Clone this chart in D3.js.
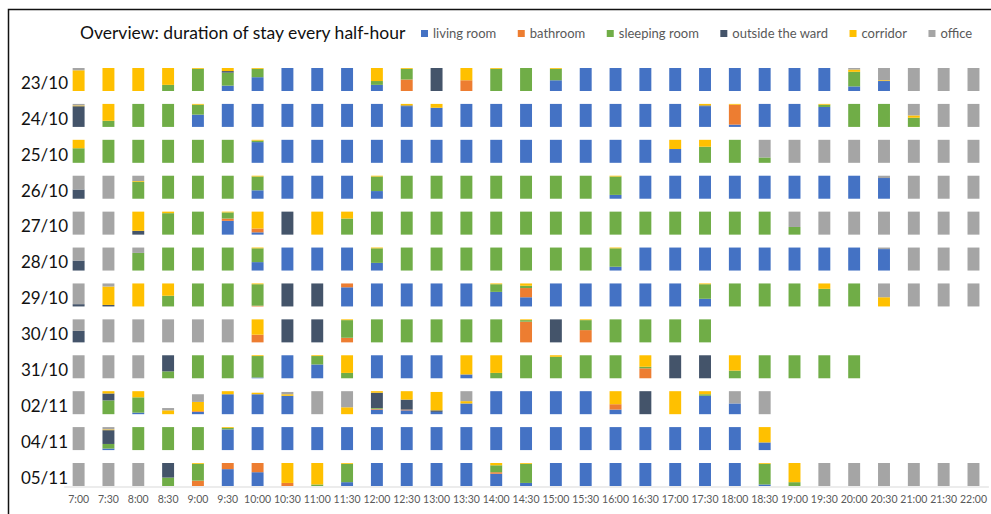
<!DOCTYPE html>
<html>
<head>
<meta charset="utf-8">
<script src="https://cdn.jsdelivr.net/npm/d3@7"></script>
<style>
  body { margin: 0; background: #fff; }
  svg { display: block; font-family: Lato, "Open Sans", sans-serif; }
</style>
</head>
<body>
<svg id="chart" width="991" height="514"></svg>
<script>
// minutes spent in each place per half-hour slot (30 = full slot)
// codes: L living room, B bathroom, S sleeping room, X outside the ward, C corridor, O office
// a lone letter means the whole 30 minutes
const keys = ["L", "B", "S", "X", "C", "O"];
const categoryNames = ["living room", "bathroom", "sleeping room", "outside the ward", "corridor", "office"];
const categoryColors = ["#4472C4", "#ED7D31", "#70AD47", "#44546A", "#FFC000", "#A5A5A5"];

const days = ["23/10", "24/10", "25/10", "26/10", "27/10", "28/10", "29/10", "30/10", "31/10", "02/11", "04/11", "05/11"];

const times = ["7:00", "7:30", "8:00", "8:30", "9:00", "9:30", "10:00", "10:30", "11:00", "11:30",
  "12:00", "12:30", "13:00", "13:30", "14:00", "14:30", "15:00", "15:30", "16:00", "16:30",
  "17:00", "17:30", "18:00", "18:30", "19:00", "19:30", "20:00", "20:30", "21:00", "21:30", "22:00"];

const day2310 = ["C27 O3", "C", "C", "S8 C22", "S29 C1", "L7 S17 X2 C4", "L18 S11 C1", "L", "L", "L",
  "L8 S5 C17", "B15 S14 C1", "X", "B14 C16", "S29 C1", "S", "L14 S15 C1", "L", "L", "L",
  "L", "L", "L", "L", "L", "L", "L6 S19 C3 O2", "L13 C1 O16", "O", "O", "O"];
const day2410 = ["X27 C1 O2", "S8 C22", "S", "S", "L16 S13 C1", "L", "L", "L", "L", "L",
  "L", "L27 X1 C2", "L25 C5", "L", "L", "L", "L", "L", "L", "L",
  "L", "L27 X1 C2", "L3 B26 C1", "L", "L", "L26 S3 C1", "S", "S", "S12 C3 O15", "O", "O"];
const day2510 = ["S19 C11", "S", "S", "S", "S", "S", "L27 S2 C1", "L", "L", "L",
  "L", "L", "L", "L", "L", "L", "L", "L", "L", "L",
  "L18 C12", "S21 C9", "S", "S7 O23", "O", "O", "O", "O", "O", "O", "O"];
const day2610 = ["X12 O18", "O", "S22 C1 O7", "S", "S", "S", "L11 S18 C1", "L", "L", "L",
  "L10 S19 C1", "S", "S", "S", "S", "S", "S", "S", "L5 S24 C1", "L",
  "L", "L", "L", "L", "L", "L", "L", "L27 O3", "O", "O", "O"];
const day2710 = ["O", "O", "X5 C25", "S28 C2", "S", "L18 B3 S8 C1", "L3 B5 C22", "X", "C", "S21 C9",
  "S", "S", "S", "S", "S", "S", "S", "S", "S", "S",
  "S", "S", "S", "S", "S10 O20", "O", "O", "O", "O", "O", "O"];
const day2810 = ["X13 O17", "O", "S23 O7", "S", "S", "S", "L11 S18 C1", "L", "L", "L",
  "L10 S19 C1", "S", "S", "S", "S", "S", "S", "S", "L5 S24 C1", "L",
  "L", "L", "L", "L", "L", "L", "L", "L28 O2", "O", "O", "O"];
const day2910 = ["X3 O27", "X2 C24 O4", "C", "S14 C16", "S", "S", "B1 S28 C1", "X", "X", "L25 B5",
  "L", "L", "L", "L", "L19 S10 C1", "L12 B12 S3 C3", "L", "L", "L", "L",
  "L", "L10 S19 C1", "S", "S", "S", "S23 C7", "S", "C12 O18", "O", "O", "O"];
const day3010 = ["X15 O15", "O", "O", "O", "O", "O", "B10 C20", "X", "X", "B6 S23 C1",
  "S", "S", "S", "S", "S", "B27 S2 C1", "X", "B16 S13 C1", "S", "S",
  "S", "S", "", "", "", "", "", "", "", "", ""];
const day3110 = ["O", "O", "O", "S9 X21", "S", "S", "L1 S28 C1", "L", "L18 S11 C1", "S7 C23",
  "L", "L", "L", "L5 C25", "S7 C23", "S", "S28 C2", "S", "S", "B13 S2 C15",
  "X", "X", "S10 C20", "S", "S", "S", "S", "", "", "", ""];
const day0211 = ["O", "S18 X9 C3", "L2 S20 C8", "C5 O3", "L3 B1 C12 O10", "L26 C4", "L26 C2", "L24 C2 O3", "O", "C9 O21",
  "L6 B1 S1 X20 C2", "L5 B1 X13 C11", "L3 X2 C24", "L14 C3 O13", "L", "L", "L", "L", "L6 B7 C17", "X",
  "C", "L24 S2 C4", "L14 O16", "O", "", "", "", "", "", "", ""];
const day0411 = ["O", "L2 S6 X18 C1 O3", "S", "S", "S", "L27 S2 C1", "L", "L", "L", "L",
  "L", "L", "L", "L", "L", "L", "L", "L", "L", "L",
  "L", "L", "L", "L10 C20", "", "", "", "", "", "", ""];
const day0511 = ["O", "O", "O", "S11 X19", "B7 S22 C1", "L22 B8", "L18 B12", "B4 C26", "S2 C28", "L5 S24 C1",
  "L", "L", "L", "L", "L16 B2 S9 C3", "L4 S25 C1", "L", "L", "L", "L",
  "L", "L", "L", "L2 S27 C1", "S5 C25", "O", "O", "O", "O", "O", "O"];

const stays = [day2310, day2410, day2510, day2610, day2710, day2810,
  day2910, day3010, day3110, day0211, day0411, day0511];

function parseCell(code, time) {
  const cell = { time };
  keys.forEach((k) => (cell[k] = 0));
  code.split(" ").filter((p) => p).forEach((part) => {
    const k = part[0];
    cell[k] = part.length > 1 ? +part.slice(1) : 30;
  });
  return cell;
}

const svg = d3.select("#chart");
const textGrey = "#595959";

// frame (only top and left edges fall inside the picture)
svg.append("rect")
  .attr("x", 8.5).attr("y", 9.5)
  .attr("width", 1200).attr("height", 1200)
  .attr("fill", "none").attr("stroke", "#111").attr("stroke-width", 1.5);

// title
svg.append("text")
  .attr("x", 80).attr("y", 39)
  .attr("font-size", 17.5)
  .attr("fill", "#111")
  .text("Overview: duration of stay every half-hour");

// legend
let lx = 421;
categoryNames.forEach((name, i) => {
  const g = svg.append("g").attr("transform", `translate(${lx},0)`);
  g.append("rect").attr("x", 0).attr("y", 30).attr("width", 7).attr("height", 7)
    .attr("fill", categoryColors[i]);
  const t = g.append("text").attr("x", 12).attr("y", 38)
    .attr("font-size", 13).attr("fill", textGrey).text(name);
  lx += 12 + t.node().getComputedTextLength() + 21.5;
});

const x = d3.scaleBand()
  .domain(times)
  .range([63.7, 988.4])
  .paddingInner(0.6)
  .paddingOuter(0.3);

const rowBottom = d3.scalePoint()
  .domain(days)
  .range([91, 486]);

const h = d3.scaleLinear().domain([0, 30]).range([0, 23]);

const color = d3.scaleOrdinal().domain(keys).range(categoryColors);

const stack = d3.stack().keys(keys);

const rows = svg.append("g").attr("class", "rows");

days.forEach((day, r) => {
  const data = stays[r].map((code, i) => parseCell(code, times[i]));
  const series = stack(data);
  const base = rowBottom(day);

  const g = rows.append("g");
  g.selectAll("g")
    .data(series)
    .join("g")
    .attr("fill", (s) => color(s.key))
    .selectAll("rect")
    .data((s) => s.filter((d) => d[1] - d[0] > 0))
    .join("rect")
    .attr("x", (d) => x(d.data.time))
    .attr("width", x.bandwidth())
    .attr("y", (d) => base - h(d[1]))
    .attr("height", (d) => h(d[1]) - h(d[0]));

  svg.append("text")
    .attr("x", 68)
    .attr("y", base - 11.5)
    .attr("dy", "0.55em")
    .attr("text-anchor", "end")
    .attr("font-size", 17)
    .attr("fill", "#111")
    .text(day);
});

const axis = svg.append("g")
  .attr("transform", `translate(0,${rowBottom.range()[1] + 0.5})`)
  .call(d3.axisBottom(x).tickSize(0).tickPadding(9));

axis.select(".domain").attr("stroke", "#d9d9d9").attr("stroke-width", 1);
axis.selectAll("text")
  .attr("font-family", "Lato, 'Open Sans', sans-serif")
  .attr("font-size", 10.5)
  .attr("fill", textGrey);
</script>
</body>
</html>
